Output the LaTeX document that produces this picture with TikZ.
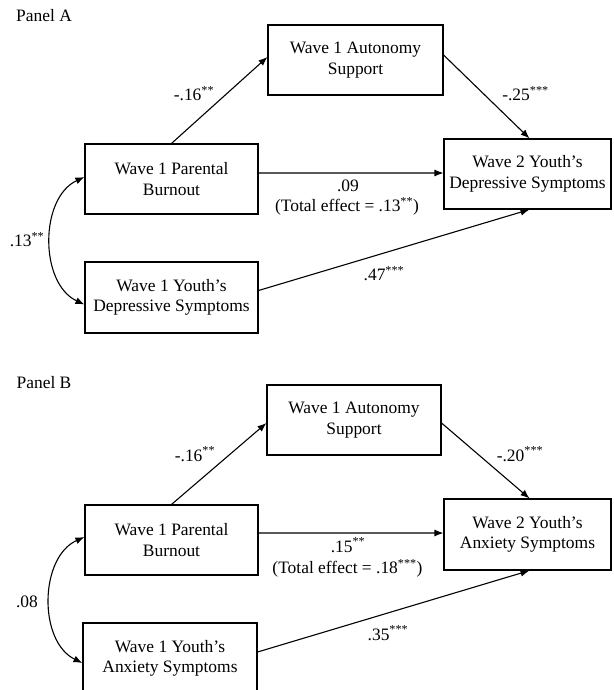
\documentclass[tikz,border=0pt]{standalone}
\usepackage{fontspec}
\setmainfont{Liberation Serif}
\usetikzlibrary{arrows.meta}

\begin{document}
\begin{tikzpicture}[x=1bp, y=-1bp, >={Latex[length=9bp,width=7bp]},
  font=\fontsize{17.5}{20.5}\selectfont,
  default/.style={draw=black, line width=1.1bp, solid, fill=white, align=center, inner sep=0pt, },
  path/.style={line width=1.1bp, ->, },
  label/.style={inner sep=0pt, }]
\useasboundingbox (0,0) rectangle (614,690);
% Panel A
\node[label] (PA) at (44, 16) {Panel A};
\node[default, minimum width=175bp, minimum height=70bp] (A) at (355.5, 60) {Wave 1 Autonomy\\Support};
\node[default, minimum width=173bp, minimum height=70bp] (B) at (171.5, 179) {Wave 1 Parental\\Burnout};
\node[default, minimum width=173bp, minimum height=71bp] (C) at (171.5, 297.5) {Wave 1 Youth’s\\Depressive Symptoms};
\node[default, minimum width=167bp, minimum height=70bp] (D) at (527.5, 174) {Wave 2 Youth’s\\Depressive Symptoms};
\draw [path] (B.north) -- ([yshift=3bp]A.west);
\draw [path] ([yshift=5bp]A.east) -- ([xshift=2bp]D.north);
\draw [path] ([yshift=6bp]B.east) -- ([yshift=1bp]D.west);
\draw [path] ([yshift=7bp]C.east) -- ([xshift=2bp]D.south);
\draw [line width=1.1bp, <->] ([yshift=2bp]B.west) to[bend right=65] ([yshift=-7bp]C.west);
\node[label] (a1) at (194, 94) {-.16\textsuperscript{**}};
\node[label] (a2) at (525.5, 94) {-.25\textsuperscript{***}};
\node[label] (a3) at (348, 186) {.09};
\node[label] (a4) at (347, 206) {(Total effect = .13\textsuperscript{**})};
\node[label] (a5) at (384, 274) {.47\textsuperscript{***}};
\node[label] (a6) at (27, 240) {.13\textsuperscript{**}};
% Panel B
\node[label] (PB) at (44, 383) {Panel B};
\node[default, minimum width=174bp, minimum height=70bp] (E) at (354, 420) {Wave 1 Autonomy\\Support};
\node[default, minimum width=173bp, minimum height=70bp] (F) at (171.5, 540) {Wave 1 Parental\\Burnout};
\node[default, minimum width=174bp, minimum height=71bp] (G) at (170, 658.5) {Wave 1 Youth’s\\Anxiety Symptoms};
\node[default, minimum width=167bp, minimum height=71bp] (H) at (527.5, 534.5) {Wave 2 Youth’s\\Anxiety Symptoms};
\draw [path] (F.north) -- ([yshift=-3bp]E.west);
\draw [path] ([yshift=-3bp]E.east) -- ([xshift=2bp]H.north);
\draw [path] ([yshift=7bp]F.east) -- ([yshift=1.5bp]H.west);
\draw [path] ([yshift=6.5bp]G.east) -- ([xshift=2bp]H.south);
\draw [line width=1.1bp, <->] ([yshift=3bp]F.west) to[bend right=65] ([yshift=-4.5bp]G.west);
\node[label] (b1) at (195, 454) {-.16\textsuperscript{**}};
\node[label] (b2) at (520, 454) {-.20\textsuperscript{***}};
\node[label] (b3) at (348, 545) {.15\textsuperscript{**}};
\node[label] (b4) at (347.5, 568) {(Total effect = .18\textsuperscript{***})};
\node[label] (b5) at (388, 633) {.35\textsuperscript{***}};
\node[label] (b6) at (27, 602) {.08};
\end{tikzpicture}
\end{document}
